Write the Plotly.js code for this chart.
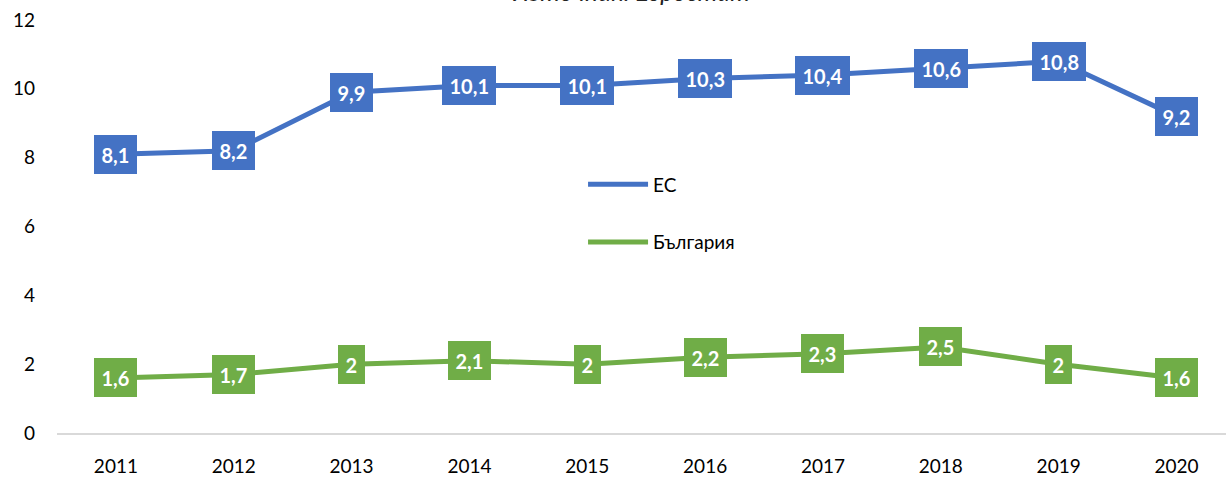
<!DOCTYPE html>
<html>
<head>
<meta charset="utf-8">
<script src="https://cdn.plot.ly/plotly-3.0.1.min.js"></script>
<style>html,body{margin:0;padding:0;background:#fff}#chart{width:1226px;height:477px}</style>
</head>
<body>
<div id="chart"></div>
<script>
const years = ['2011','2012','2013','2014','2015','2016','2017','2018','2019','2020'];
const euValues = [8.1, 8.2, 9.9, 10.1, 10.1, 10.3, 10.4, 10.6, 10.8, 9.2];
const bgValues = [1.6, 1.7, 2, 2.1, 2, 2.2, 2.3, 2.5, 2, 1.6];
const seriesNames = ['ЕС', 'България'];
const sourceText = 'Източник: Евростат';

const blue = '#4472C4', green = '#70AD47';
const fontFam = 'Lato, "Open Sans", sans-serif';
const fmt = v => String(v).replace('.', ',');

const traces = [
  {x: years, y: euValues, name: seriesNames[0], type: 'scatter', mode: 'lines',
   line: {color: blue, width: 5}, legendgroup: 'a'},
  {x: years, y: bgValues, name: seriesNames[1], type: 'scatter', mode: 'lines',
   line: {color: green, width: 5}, legendgroup: 'b'}
];

const annotations = [];
[[euValues, blue], [bgValues, green]].forEach(([vals, col]) => {
  vals.forEach((v, i) => {
    annotations.push({x: i, y: v, xref: 'x', yref: 'y', text: '<b>' + fmt(v) + '</b>',
      showarrow: false, bgcolor: col, borderpad: 7.5, borderwidth: 0,
      font: {family: fontFam, size: 20, color: '#ffffff'}});
  });
});
annotations.push({xref: 'paper', yref: 'paper', x: 0.491, y: 1.028, xanchor: 'center', yanchor: 'bottom',
  text: '<i>' + sourceText + '</i>', showarrow: false, font: {family: fontFam, size: 25, color: '#222'}});

const layout = {
  width: 1226, height: 477,
  margin: {l: 57, r: 0, t: 20, b: 44, pad: 0},
  paper_bgcolor: '#fff', plot_bgcolor: '#fff',
  font: {family: fontFam, size: 19, color: '#000'},
  xaxis: {type: 'category', range: [-0.5, 9.42], showgrid: false, zeroline: false,
    showline: true, linecolor: '#d9d9d9', linewidth: 1.5, ticks: '', ticklabelstandoff: 16,
    tickfont: {family: fontFam, size: 19, color: '#000'}},
  yaxis: {range: [0, 12], dtick: 2, showgrid: false, zeroline: false, showline: false,
    ticks: '', ticklabelstandoff: 21, tickfont: {family: fontFam, size: 19, color: '#000'}},
  showlegend: true,
  legend: {x: 0.45, y: 0.648, xanchor: 'left', yanchor: 'top', tracegroupgap: 30, itemwidth: 60,
    font: {family: fontFam, size: 19, color: '#000'}, bgcolor: 'rgba(0,0,0,0)'},
  annotations: annotations
};

Plotly.newPlot('chart', traces, layout, {displayModeBar: false, staticPlot: true});
</script>
</body>
</html>
